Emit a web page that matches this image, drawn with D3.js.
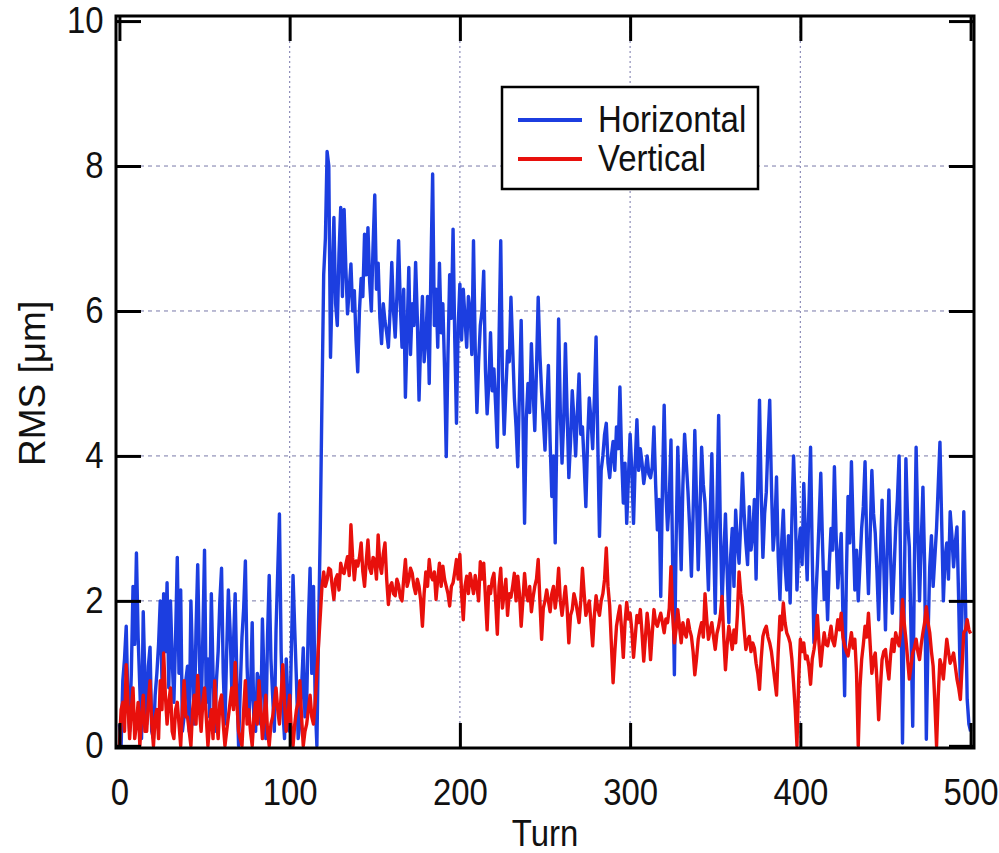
<!DOCTYPE html>
<html>
<head>
<meta charset="utf-8">
<script src="https://cdn.jsdelivr.net/npm/d3@7"></script>
<style>
  body { margin: 0; background: #fff; }
  svg { display: block; font-family: "Liberation Sans", Arial, sans-serif; }
</style>
</head>
<body>
<div id="container"></div>
<script>
// turn number of every sample
var turns = d3.range(0, 501);

// RMS in um (20 turns per row)
var horizontal = [
  0.3, 0.0, 0.9, 1.2, 1.65, 0.6, 0.2, 1.0, 2.2, 1.4, 2.66, 1.5, 0.8, 0.1, 1.85, 0.9, 0.3, 1.1, 1.36, 0.2,
  0.1, 0.7, 1.0, 1.4, 2.0, 0.9, 2.1, 1.3, 2.25, 0.8, 2.0, 1.2, 0.6, 1.5, 2.6, 1.0, 2.15, 0.2, 0.4, 0.9,
  1.1, 0.2, 2.0, 1.1, 0.3, 1.6, 2.5, 1.2, 0.4, 1.5, 2.7, 0.6, 1.2, 0.4, 2.1, 1.0, 0.2, 0.9, 1.3, 2.0,
  2.45, 1.0, 0.3, 1.3, 2.15, 1.6, 0.8, 1.4, 2.1, 0.9, 0.0, 0.8, 1.5, 1.9, 2.55, 1.1, 0.4, 0.7, 1.7, 0.3,
  0.2, 1.0, 0.9, 0.3, 1.75, 0.9, 0.1, 1.5, 2.35, 1.2, 0.7, 0.2, 1.6, 2.4, 3.2, 1.3, 0.5, 0.1, 1.2, 0.6,
  0.2, 1.3, 2.35, 1.6, 0.9, 0.1, 0.3, 0.8, 1.35, 0.4, 0.6, 1.7, 2.45, 1.0, 2.2, 0.6, 0.0, 1.6, 3.0, 4.8,
  6.5, 7.0, 8.2, 8.0, 5.36, 6.4, 7.29, 6.1, 5.8, 6.8, 7.43, 6.2, 7.4, 6.6, 5.96, 6.3, 6.65, 6.0, 6.28, 5.6,
  5.16, 6.0, 6.45, 6.2, 7.06, 6.5, 7.15, 6.4, 6.0, 6.9, 7.6, 6.3, 6.66, 5.9, 5.55, 6.1, 5.86, 5.7, 5.5, 6.0,
  6.67, 6.0, 5.64, 6.2, 6.97, 6.1, 5.5, 6.3, 4.81, 5.7, 6.6, 5.4, 6.1, 5.8, 6.67, 5.9, 4.77, 5.6, 6.2, 5.3,
  5.6, 6.2, 5.0, 6.6, 7.89, 5.8, 6.3, 5.5, 6.66, 5.7, 6.1, 5.2, 3.99, 5.4, 6.5, 5.9, 7.13, 5.6, 4.45, 5.8,
  6.37, 5.6, 6.3, 5.9, 5.5, 6.2, 6.0, 5.4, 6.97, 5.5, 4.6, 5.3, 5.8, 6.0, 6.55, 5.2, 4.58, 5.0, 5.7, 4.9,
  5.2, 4.7, 4.12, 5.6, 6.97, 5.1, 4.3, 4.9, 5.45, 5.3, 6.19, 5.5, 4.8, 4.4, 3.85, 4.9, 5.87, 4.6, 3.07, 4.5,
  5.0, 4.6, 5.55, 4.9, 4.35, 5.2, 6.19, 5.4, 4.88, 4.5, 4.08, 4.7, 5.25, 4.2, 3.44, 4.0, 2.8, 4.4, 5.89, 4.6,
  3.9, 4.5, 5.55, 4.6, 3.7, 4.2, 4.9, 4.5, 4.0, 4.6, 5.13, 4.3, 4.4, 3.9, 3.3, 4.2, 4.8, 4.5, 4.1, 4.8,
  5.64, 4.2, 2.89, 3.8, 4.0, 4.3, 4.45, 3.9, 3.7, 4.0, 4.2, 3.8, 4.4, 4.1, 4.95, 4.0, 3.35, 3.9, 3.07, 3.7,
  4.3, 3.8, 3.07, 3.9, 4.5, 3.8, 4.1, 3.9, 3.62, 3.8, 4.0, 3.75, 3.7, 3.85, 4.4, 3.6, 2.98, 3.4, 2.06, 3.6,
  4.7, 3.5, 2.98, 3.4, 4.22, 2.5, 0.98, 2.8, 4.12, 3.3, 2.43, 3.6, 4.3, 3.9, 3.5, 3.0, 2.34, 3.2, 4.35, 3.4,
  2.43, 3.2, 4.12, 3.6, 3.35, 2.8, 2.15, 3.1, 4.03, 2.9, 1.83, 3.3, 4.56, 3.0, 1.97, 2.6, 3.2, 2.4, 1.7, 2.6,
  3.0, 2.2, 3.25, 2.8, 2.52, 3.1, 3.76, 3.2, 2.8, 2.5, 3.3, 2.7, 2.9, 3.4, 2.3, 3.6, 4.77, 3.5, 2.6, 3.2,
  3.5, 4.2, 4.77, 3.6, 2.7, 3.0, 3.71, 2.6, 2.02, 2.8, 3.25, 2.5, 2.15, 2.9, 1.97, 3.1, 4.0, 3.3, 2.15, 2.7,
  3.0, 2.5, 3.62, 2.9, 2.29, 3.3, 4.12, 2.6, 1.42, 2.0, 2.5, 3.1, 3.76, 2.8, 2.02, 2.4, 1.74, 2.5, 3.0, 2.7,
  3.85, 2.9, 2.18, 2.6, 2.93, 1.8, 0.69, 2.3, 3.44, 2.8, 3.92, 3.0, 2.15, 2.7, 2.0, 2.5, 3.0, 3.3, 3.92, 2.8,
  2.1, 2.9, 3.8, 3.2, 2.93, 2.4, 1.74, 2.6, 3.39, 2.5, 1.6, 2.7, 3.53, 2.6, 1.83, 2.4, 3.0, 3.4, 4.0, 2.3,
  0.04, 2.0, 3.96, 3.1, 2.75, 1.6, 0.27, 2.5, 4.12, 3.0, 2.0, 2.8, 3.57, 2.5, 0.09, 1.5, 2.47, 2.9, 2.2, 2.6,
  3.0, 3.6, 4.19, 3.1, 2.0, 2.6, 2.8, 2.3, 3.23, 2.9, 2.47, 2.8, 3.02, 2.0, 0.78, 1.9, 3.23, 2.0, 0.64, 0.3,
  0.2
];

var vertical = [
  0.0, 0.5, 0.6, 0.2, 1.12, 0.6, 0.1, 0.5, 0.8, 0.1, 0.3, 0.6, 0.0, 0.4, 0.7, 0.2, 0.2, 0.6, 0.9, 0.3,
  0.0, 0.4, 0.5, 0.1, 0.9, 0.5, 1.28, 0.7, 0.3, 0.6, 0.8, 0.2, 0.1, 0.5, 0.6, 0.3, 0.0, 0.5, 0.9, 0.4,
  0.4, 0.2, 0.0, 0.5, 0.7, 0.3, 0.97, 0.5, 0.2, 0.6, 0.8, 0.4, 0.0, 0.3, 0.5, 0.1, 0.9, 0.4, 0.1, 0.6,
  0.7, 0.3, 0.0, 0.2, 0.4, 0.6, 0.8, 0.5, 1.15, 0.6, 0.2, 0.1, 0.0, 0.5, 0.9, 0.3, 0.5, 0.2, 0.0, 0.4,
  0.6, 0.3, 0.9, 0.5, 0.1, 0.4, 0.7, 0.2, 0.0, 0.3, 0.4, 0.6, 0.8, 0.5, 0.3, 0.7, 1.12, 0.6, 0.2, 0.4,
  0.7, 0.2, 0.0, 0.3, 0.5, 0.6, 0.9, 0.4, 0.0, 0.2, 0.3, 0.5, 0.7, 0.4, 0.3, 0.6, 1.0, 1.4, 1.8, 2.2,
  2.4, 2.2, 2.29, 2.45, 2.43, 2.2, 2.02, 2.3, 2.36, 2.15, 2.52, 2.4, 2.38, 2.5, 2.61, 2.35, 3.05, 2.6, 2.29, 2.55,
  2.48, 2.6, 2.8, 2.4, 2.2, 2.55, 2.84, 2.45, 2.38, 2.6, 2.57, 2.3, 2.91, 2.5, 2.38, 2.65, 2.8, 2.3, 1.95, 2.2,
  2.25, 2.1, 2.07, 2.3, 2.22, 2.05, 2.0, 2.3, 2.57, 2.2, 2.29, 2.45, 2.38, 2.2, 2.1, 2.3, 2.2, 2.0, 1.65, 2.1,
  2.4, 2.2, 2.57, 2.35, 2.29, 2.4, 2.02, 2.3, 2.52, 2.2, 2.48, 2.3, 2.2, 2.1, 1.93, 2.2, 2.25, 2.4, 2.57, 2.3,
  2.64, 2.1, 1.74, 2.2, 2.34, 2.1, 2.38, 2.25, 2.1, 2.35, 2.2, 2.0, 2.54, 2.3, 2.52, 2.05, 1.6, 2.2, 2.1, 2.3,
  2.38, 2.0, 1.54, 2.2, 2.45, 1.9, 2.1, 2.3, 1.8, 2.1, 2.05, 2.2, 2.38, 2.0, 2.34, 2.1, 1.65, 2.0, 2.38, 2.1,
  2.0, 2.2, 1.85, 2.05, 2.2, 2.3, 2.57, 2.0, 1.47, 1.9, 2.0, 2.15, 2.0, 1.85, 2.1, 2.2, 1.9, 2.1, 2.45, 2.0,
  1.8, 2.0, 2.2, 1.9, 1.42, 1.8, 1.88, 2.1, 2.0, 1.85, 1.7, 2.0, 2.45, 2.1, 1.8, 1.9, 2.0, 1.7, 1.38, 1.8,
  2.07, 1.9, 1.8, 2.0, 2.1, 2.3, 2.73, 2.2, 1.93, 1.4, 0.87, 1.3, 1.65, 1.8, 1.93, 1.6, 1.22, 1.7, 1.98, 1.75,
  1.83, 1.6, 1.22, 1.5, 1.8, 1.7, 1.88, 1.55, 1.17, 1.5, 1.83, 1.6, 1.19, 1.55, 1.88, 1.7, 1.65, 1.75, 1.83, 1.7,
  1.56, 1.75, 1.7, 1.9, 2.47, 1.8, 1.42, 1.6, 1.88, 1.65, 1.42, 1.7, 1.56, 1.5, 1.74, 1.6, 1.51, 1.3, 0.98, 1.2,
  1.47, 1.6, 1.7, 1.5, 2.1, 1.75, 1.47, 1.6, 1.7, 1.5, 1.33, 1.55, 1.65, 1.8, 2.06, 1.5, 1.05, 1.4, 1.65, 1.5,
  1.33, 1.6, 1.42, 1.8, 2.4, 2.1, 1.92, 1.6, 1.33, 1.45, 1.51, 1.3, 1.42, 1.35, 1.14, 1.0, 0.78, 1.2, 1.51, 1.6,
  1.65, 1.5, 1.42, 1.3, 1.1, 0.9, 0.7, 1.3, 1.79, 1.6, 1.97, 1.7, 1.56, 1.5, 1.42, 1.2, 0.87, 0.5, 0.0, 0.9,
  1.47, 1.3, 1.42, 1.2, 1.24, 1.1, 0.85, 1.2, 1.33, 1.5, 1.8, 1.4, 1.1, 1.35, 1.56, 1.4, 1.38, 1.5, 1.65, 1.45,
  1.38, 1.55, 1.74, 1.6, 1.83, 1.5, 1.38, 1.3, 1.24, 1.4, 1.56, 1.35, 1.47, 1.0, 0.0, 0.8, 1.19, 1.4, 1.65, 1.5,
  1.83, 1.4, 1.0, 1.2, 1.28, 0.9, 0.36, 0.8, 1.19, 1.3, 1.33, 1.1, 0.92, 1.25, 1.47, 1.3, 1.56, 1.45, 1.38, 1.6,
  2.02, 1.7, 1.47, 1.2, 0.92, 1.1, 1.28, 1.35, 1.47, 1.3, 1.19, 1.4, 1.56, 1.7, 1.92, 1.7, 1.56, 1.3, 1.1, 0.6,
  0.0, 0.7, 1.19, 1.1, 0.92, 1.2, 1.47, 1.3, 1.14, 1.2, 1.28, 1.1, 0.92, 0.8, 0.64, 1.1, 1.56, 1.6, 1.74, 1.6,
  1.55
];

var seriesNames = ["Horizontal", "Vertical"];
var xTicks = [0, 100, 200, 300, 400, 500];
var yTicks = [0, 2, 4, 6, 8, 10];

var colors = ["#1c3ee0", "#e8100c"];
var fontSize = 37;
var squeeze = "scale(0.89,1)";   // the original picture is a little narrow

var svg = d3.select("#container")
  .append("svg")
  .attr("width", 999)
  .attr("height", 853);

var x = d3.scaleLinear().domain([-2, 502]).range([116, 974]);
var y = d3.scaleLinear().domain([-0.03, 10.07]).range([748, 16]);

// grid
var grid = svg.append("g").attr("id", "grid");
grid.selectAll(".hgrid")
  .data(yTicks.slice(1, -1))
  .enter().append("line")
    .classed("hgrid", true)
    .attr("x1", x.range()[0])
    .attr("x2", x.range()[1])
    .attr("y1", function(d) { return y(d); })
    .attr("y2", function(d) { return y(d); })
    .attr("stroke", "#7878a8")
    .attr("stroke-width", 1)
    .attr("stroke-dasharray", "4,4");
grid.selectAll(".vgrid")
  .data(xTicks.slice(1, -1))
  .enter().append("line")
    .classed("vgrid", true)
    .attr("x1", function(d) { return x(d); })
    .attr("x2", function(d) { return x(d); })
    .attr("y1", y.range()[0])
    .attr("y2", y.range()[1])
    .attr("stroke", "#8c8cb8")
    .attr("stroke-width", 1.2)
    .attr("stroke-dasharray", "2,3");

// data lines, vertical drawn on top
var line = d3.line()
  .x(function(d, i) { return x(turns[i]); })
  .y(function(d) { return y(d); });

svg.selectAll(".series")
  .data([horizontal, vertical])
  .enter().append("path")
    .classed("series", true)
    .attr("d", line)
    .attr("fill", "none")
    .attr("stroke", function(d, i) { return colors[i]; })
    .attr("stroke-width", 3.4)
    .attr("stroke-linejoin", "round");

// box
svg.append("rect")
  .attr("x", x.range()[0])
  .attr("y", y.range()[1])
  .attr("width", x.range()[1] - x.range()[0])
  .attr("height", y.range()[0] - y.range()[1])
  .attr("fill", "none")
  .attr("stroke", "#000")
  .attr("stroke-width", 3);

// axes, ticks pointing inwards on all four sides
function styleAxis(g) {
  g.select(".domain").remove();
  g.selectAll(".tick line").attr("stroke", "#000").attr("stroke-width", 3);
  g.selectAll(".tick text")
    .attr("fill", "#111")
    .attr("font-size", fontSize)
    .attr("font-family", "Liberation Sans, Arial, sans-serif")
    .attr("transform", squeeze);
}

svg.append("g")
  .attr("transform", "translate(0," + y.range()[0] + ")")
  .call(d3.axisBottom(x).tickValues(xTicks).tickSizeInner(-25).tickSizeOuter(0).tickPadding(31))
  .call(styleAxis);

svg.append("g")
  .attr("transform", "translate(0," + y.range()[1] + ")")
  .call(d3.axisTop(x).tickValues(xTicks).tickSizeInner(-25).tickSizeOuter(0).tickFormat(""))
  .call(styleAxis);

svg.append("g")
  .attr("transform", "translate(" + x.range()[0] + ",0)")
  .call(d3.axisLeft(y).tickValues(yTicks).tickSizeInner(-25).tickSizeOuter(0).tickPadding(14))
  .call(styleAxis);

svg.append("g")
  .attr("transform", "translate(" + x.range()[1] + ",0)")
  .call(d3.axisRight(y).tickValues(yTicks).tickSizeInner(-25).tickSizeOuter(0).tickFormat(""))
  .call(styleAxis);

// axis titles
svg.append("text")
  .attr("transform", "translate(" + x(250) + ",846) " + squeeze)
  .attr("text-anchor", "middle")
  .attr("font-size", fontSize)
  .attr("fill", "#111")
  .text("Turn");

svg.append("text")
  .attr("transform", "translate(45," + y(5) + ") rotate(-90)")
  .attr("text-anchor", "middle")
  .attr("font-size", fontSize)
  .attr("fill", "#111")
  .text("RMS [μm]");

// legend
var legend = svg.append("g")
  .classed("legend", true)
  .attr("transform", "translate(502,87)");

legend.append("rect")
  .attr("width", 256)
  .attr("height", 102)
  .attr("fill", "#fff")
  .attr("stroke", "#000")
  .attr("stroke-width", 2.5);

var legendItem = legend.selectAll(".legendItem")
  .data(seriesNames)
  .enter().append("g")
    .classed("legendItem", true)
    .attr("transform", function(d, i) { return "translate(0," + (33 + i * 39) + ")"; });

legendItem.append("line")
  .attr("x1", 16)
  .attr("x2", 80)
  .attr("stroke", function(d, i) { return colors[i]; })
  .attr("stroke-width", 4);

legendItem.append("text")
  .attr("transform", "translate(96,12) " + squeeze)
  .attr("font-size", fontSize)
  .attr("fill", "#111")
  .text(function(d) { return d; });
</script>
</body>
</html>
